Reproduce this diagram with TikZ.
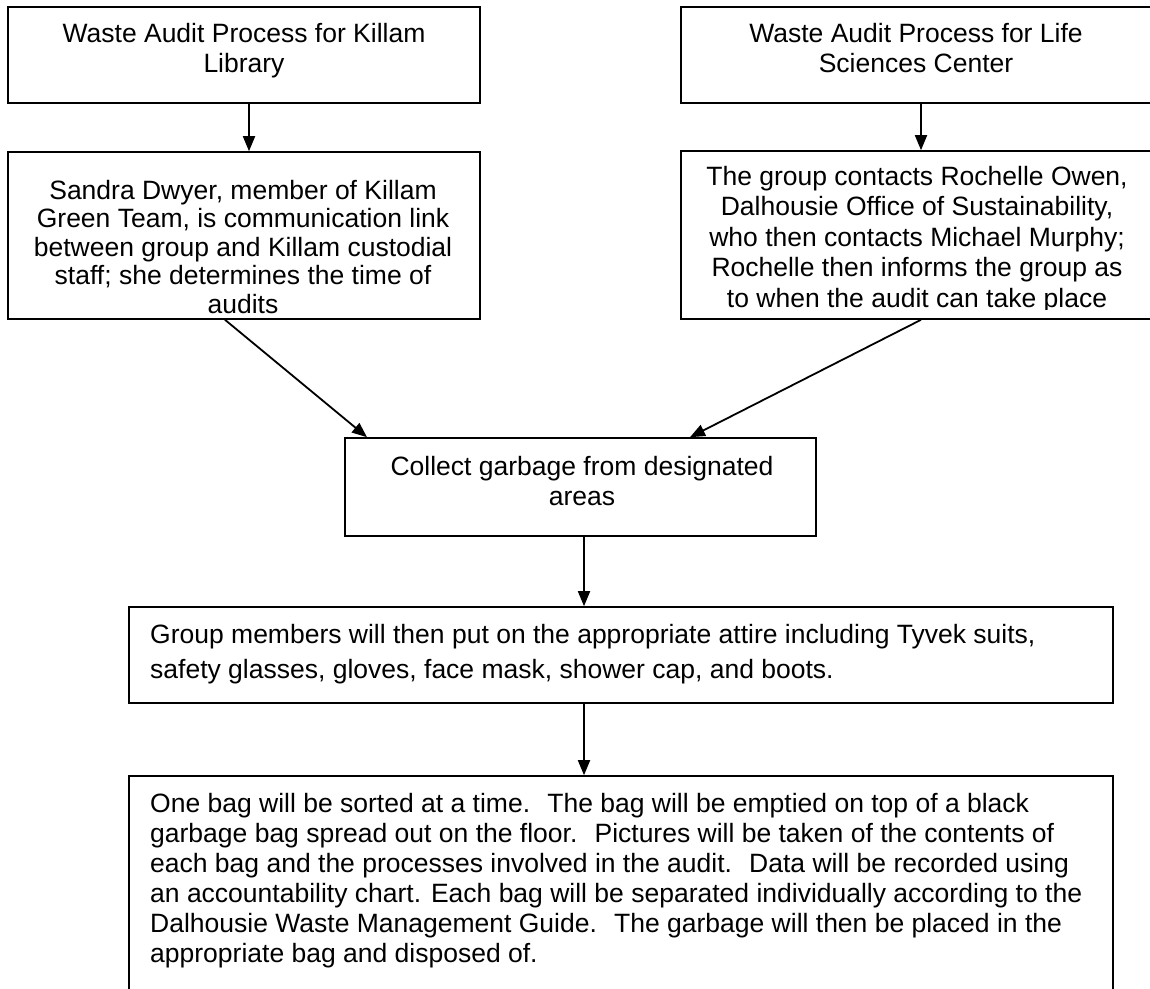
\documentclass[tikz,border=0pt]{standalone}
\usepackage{fontspec}
\setmainfont{Liberation Sans}
\usetikzlibrary{arrows.meta,calc}
\begin{document}
\begin{tikzpicture}[x=1pt,y=-1pt,
  box/.style={draw=black,line width=1.6pt,rectangle,inner sep=0pt},
  txt/.style={inner sep=0pt,align=center,anchor=north,font=\fontsize{26.5}{30.5}\selectfont},
  ltxt/.style={inner sep=0pt,align=left,anchor=north west},
  arr/.style={line width=1.8pt,-{Triangle[length=15pt,width=12pt]}}]
\clip (0,0) rectangle (1150,988);
\fill[white] (0,0) rectangle (1150,988);
% boxes
\node[box,minimum width=472pt,minimum height=96pt] (b1) at (244,55) {};
\node[box,minimum width=480pt,minimum height=96pt] (b2) at (921,55) {};
\node[box,minimum width=472pt,minimum height=167pt] (b3) at (244,235.5) {};
\node[box,minimum width=480pt,minimum height=168pt] (b4) at (921,235) {};
\node[box,minimum width=471pt,minimum height=98pt] (b5) at (580.5,487) {};
\node[box,minimum width=984pt,minimum height=96pt] (b6) at (621,655) {};
\node[box,minimum width=984pt,minimum height=234pt] (b7) at (621,893) {};
% texts
\node[txt] (t1) at (244,23) {Waste Audit Process for Killam\\Library};
\node[txt] (t2) at (916,23) {Waste Audit Process for Life\\Sciences Center};
\node[txt,font=\fontsize{26.5}{28.5}\selectfont] (t3) at (243,180) {Sandra Dwyer, member of Killam\\Green Team, is communication link\\between group and Killam custodial\\staff; she determines the time of\\audits};
\begin{scope}
\clip (681,152) rectangle (1150,309.5);
\node[txt] (t4) at (917,166) {The group contacts Rochelle Owen,\\Dalhousie Office of Sustainability,\\who then contacts Michael Murphy;\\Rochelle then informs the group as\\to when the audit can take place};
\end{scope}
\node[txt] (t5) at (582,456) {Collect garbage from designated\\areas};
\node[ltxt,font=\fontsize{26.5}{35}\selectfont] (t6) at (150,624) {Group members will then put on the appropriate attire including Tyvek suits,\\safety glasses, gloves, face mask, shower cap, and boots.};
\node[ltxt,font=\fontsize{26.5}{30}\selectfont] (t7) at (150,793) {One bag will be sorted at a time.~ The bag will be emptied on top of a black\\garbage bag spread out on the floor.~ Pictures will be taken of the contents of\\each bag and the processes involved in the audit.~ Data will be recorded using\\an accountability chart. Each bag will be separated individually according to the\\Dalhousie Waste Management Guide.~ The garbage will then be placed in the\\appropriate bag and disposed of.};
% connectors
\draw[arr] ([xshift=5pt]b1.south) -- ([xshift=5pt]b3.north);
\draw[arr] (b2.south) -- (b4.north);
\draw[arr] ([xshift=-19pt]b3.south) -- ([xshift=-213.5pt]b5.north);
\draw[arr] (b4.south) -- ([xshift=109.5pt]b5.north);
\draw[arr] ([xshift=3.5pt]b5.south) -- ([xshift=-37pt]b6.north);
\draw[arr] ([xshift=-37pt]b6.south) -- ([xshift=-37pt]b7.north);
\end{tikzpicture}
\end{document}
